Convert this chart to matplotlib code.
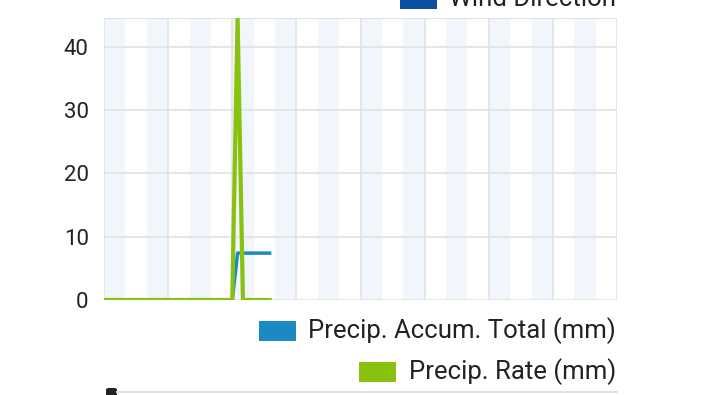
import matplotlib
matplotlib.use("Agg")
import matplotlib.pyplot as plt
from matplotlib.patches import Rectangle, FancyBboxPatch

plt.rcParams['font.family'] = ['Roboto', 'DejaVu Sans']

# time of day in hours (15-minute readings)
hours = [0.0, 0.25, 0.5, 0.75, 1.0, 1.25, 1.5, 1.75,
         2.0, 2.25, 2.5, 2.75, 3.0, 3.25, 3.5, 3.75,
         4.0, 4.25, 4.5, 4.75, 5.0, 5.25, 5.5, 5.75,
         6.0, 6.25, 6.5, 6.75, 7.0, 7.25, 7.5, 7.75]
precip_rate = [0, 0, 0, 0, 0, 0, 0, 0,
               0, 0, 0, 0, 0, 0, 0, 0,
               0, 0, 0, 0, 0, 0, 0, 0,
               0, 44.5, 0, 0, 0, 0, 0, 0]
precip_accum = [0, 0, 0, 0, 0, 0, 0, 0,
                0, 0, 0, 0, 0, 0, 0, 0,
                0, 0, 0, 0, 0, 0, 0, 0,
                0, 7.4, 7.4, 7.4, 7.4, 7.4, 7.4, 7.4]
y_ticks = [0, 10, 20, 30, 40]
legend_labels = ["Wind Direction", "Precip. Accum. Total (mm)", "Precip. Rate (mm)"]

W, H = 720, 395
fig = plt.figure(figsize=(W / 100, H / 100), dpi=100)
fig.patch.set_facecolor('white')

def fx(px):
    return px / W

def fy(py):
    return 1 - py / H

ax_l, ax_r, ax_t, ax_b = 104, 617, 18, 300
ax = fig.add_axes([fx(ax_l), fy(ax_b), fx(ax_r - ax_l), (ax_b - ax_t) / H])
ax.set_xlim(0, 24)
ax.set_ylim(0, 44.5)

# alternate hour shading
for h in range(0, 24, 2):
    ax.axvspan(h, h + 1, color='#f0f6fc', lw=0, zorder=0)
# grid
for g in range(0, 25, 3):
    ax.axvline(g, color='#e2e2e2', lw=1.2, zorder=1)
for t in y_ticks:
    ax.axhline(t, color='#e2e2e2', lw=1.2, zorder=1)
ax.axhline(44.5, color='#e2e2e2', lw=1.5, zorder=1)

ax.plot(hours, precip_accum, color='#1b8ac2', lw=2.5, zorder=3, solid_joinstyle='round')
ax.plot(hours, precip_rate, color='#88c20f', lw=3, zorder=4, solid_joinstyle='round')

for s in ax.spines.values():
    s.set_visible(False)
ax.set_xticks([])
ax.set_yticks(y_ticks)
ax.set_yticklabels([str(t) for t in y_ticks], fontsize=16, color='#222222')
ax.tick_params(axis='y', length=0, pad=11)

# legend entries (drawn in figure pixels)
def legend_item(box_x, text_y, label, color):
    fig.patches.append(Rectangle((fx(box_x), fy(text_y + 10)), fx(37), 20 / H,
                                 transform=fig.transFigure, color=color, lw=0))
    fig.text(fx(616), fy(text_y), label, ha='right', va='center',
             fontsize=18.5, color='#222222')

legend_item(400, -1, legend_labels[0], '#0b4ea2')
legend_item(259, 331, legend_labels[1], '#1b8ac2')
legend_item(359, 372, legend_labels[2], '#88c20f')

# top of the next chart (cut off)
fig.patches.append(FancyBboxPatch((fx(106), fy(398)), fx(11), 10 / H,
                                  boxstyle='round,pad=0,rounding_size=0.004',
                                  transform=fig.transFigure, color='#222222', lw=0))
fig.lines.append(plt.Line2D([fx(117), fx(617)], [fy(392), fy(392)],
                            transform=fig.transFigure, color='#e2e2e2', lw=1.5))

fig.savefig('out.png', dpi=100)
